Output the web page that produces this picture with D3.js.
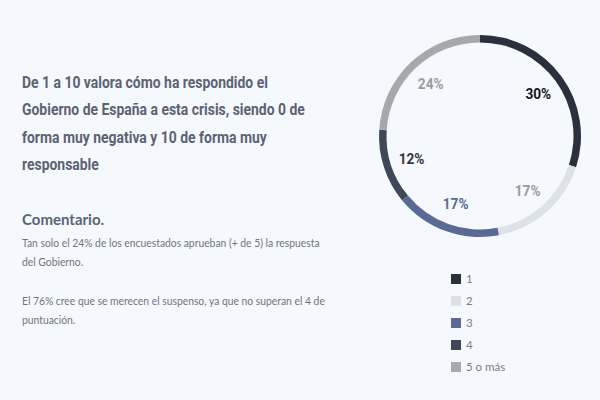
<!DOCTYPE html>
<html>
<head>
<meta charset="utf-8">
<script src="https://cdn.jsdelivr.net/npm/d3@7"></script>
<style>
  html, body { margin: 0; padding: 0; background: #f5f8fc; }
  svg { display: block; }
</style>
</head>
<body>
<div id="chart"></div>
<script>
// --- datos ---------------------------------------------------------------
const categorias = ["1", "2", "3", "4", "5 o más"];
const valores = [30, 17, 17, 12, 24];
const colores = ["#2b313c", "#dde1e8", "#5a6a94", "#3e4857", "#a7a8aa"];
const colorEtiqueta = ["#14171c", "#9a9b9d", "#5a6a94", "#2f3744", "#9c9d9f"];

const titulo = [
  "De 1 a 10 valora cómo ha respondido el",
  "Gobierno de España a esta crisis, siendo 0 de",
  "forma muy negativa y 10 de forma muy",
  "responsable"
];
const comentarioTitulo = "Comentario.";
const comentario = [
  "Tan solo el 24% de los encuestados aprueban (+ de 5) la respuesta",
  "del Gobierno.",
  "",
  "El 76% cree que se merecen el suspenso, ya que no superan el 4 de",
  "puntuación."
];

const W = 600, H = 400;
const svg = d3.select("#chart").append("svg").attr("width", W).attr("height", H);
svg.append("rect").attr("width", W).attr("height", H).attr("fill", "#f5f8fc");

// --- título (condensado a mano con scaleX) --------------------------------
const gT = svg.append("g");
const tt = gT.append("text")
  .attr("font-family", "Roboto, sans-serif").attr("font-weight", 700)
  .attr("font-size", 16.5).attr("fill", "#5b6373");
titulo.forEach((l, i) => tt.append("tspan").attr("x", 0).attr("y", 88 + i * 27.3).text(l));
const w0 = tt.select("tspan").node().getComputedTextLength();
const sx = 246 / w0;
gT.attr("transform", `translate(22,0) scale(${sx},1)`);

// --- comentario ------------------------------------------------------------
svg.append("text").attr("x", 22).attr("y", 225)
  .attr("font-family", "Lato, sans-serif").attr("font-weight", 700)
  .attr("font-size", 15).attr("fill", "#5a6477").text(comentarioTitulo);

const gC = svg.append("g");
const ct = gC.append("text")
  .attr("font-family", "Lato, sans-serif").attr("font-weight", 400)
  .attr("font-size", 11).attr("fill", "#6e7584");
comentario.forEach((l, i) => ct.append("tspan").attr("x", 0).attr("y", 247 + i * 19.3).text(l));
const wc = ct.select("tspan").node().getComputedTextLength();
gC.attr("transform", `translate(22,0) scale(${298 / wc},1)`);

// --- donut -----------------------------------------------------------------
const cx = 480, cy = 136, rOut = 101, rIn = 93.5;
const pie = d3.pie().sort(null).value(d => d);
const arcs = pie(valores);
const arc = d3.arc().innerRadius(rIn).outerRadius(rOut);
const labelArc = d3.arc().innerRadius(72).outerRadius(72);

const gD = svg.append("g").attr("transform", `translate(${cx},${cy})`);
gD.selectAll("path").data(arcs).join("path")
  .attr("d", arc).attr("fill", (d, i) => colores[i]);

gD.selectAll("text.lbl").data(arcs).join("text")
  .attr("class", "lbl")
  .attr("transform", d => {
    const [x, y] = labelArc.centroid(d);
    return `translate(${x},${y}) scale(0.88,1)`;
  })
  .attr("text-anchor", "middle").attr("dy", "0.36em")
  .attr("font-family", "Roboto, sans-serif").attr("font-weight", 700)
  .attr("font-size", 15.5)
  .attr("fill", (d, i) => colorEtiqueta[i])
  .text(d => d.value + "%");

// --- leyenda ---------------------------------------------------------------
const y = d3.scaleBand().domain(categorias).range([268, 378]);
const gL = svg.append("g").attr("transform", "translate(451,0)");
const item = gL.selectAll("g").data(categorias).join("g")
  .attr("transform", d => `translate(0,${y(d) + y.bandwidth() / 2})`);
item.append("rect").attr("x", 0).attr("y", -5).attr("width", 10).attr("height", 10)
  .attr("fill", (d, i) => colores[i]);
item.append("text").attr("x", 15).attr("dy", "0.36em")
  .attr("font-family", "Lato, sans-serif").attr("font-size", 11.5)
  .attr("fill", "#7a7f88").text(d => d);
</script>
</body>
</html>
